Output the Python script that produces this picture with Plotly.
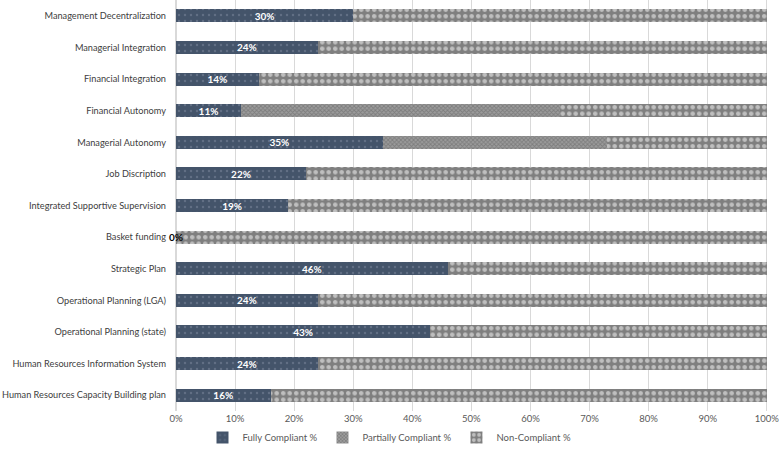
import plotly.graph_objects as go

categories = [
    "Management Decentralization",
    "Managerial Integration",
    "Financial Integration",
    "Financial Autonomy",
    "Managerial Autonomy",
    "Job Discription",
    "Integrated Supportive Supervision",
    "Basket funding",
    "Strategic Plan",
    "Operational Planning (LGA)",
    "Operational Planning (state)",
    "Human Resources Information System",
    "Human Resources Capacity Building plan",
]
fully = [30, 24, 14, 11, 35, 22, 19, 0, 46, 24, 43, 24, 16]
partially = [0, 0, 0, 54, 38, 0, 0, 0, 0, 0, 0, 0, 0]
non_compliant = [70, 76, 86, 35, 27, 78, 81, 100, 54, 76, 57, 76, 84]
x_ticks = [0, 10, 20, 30, 40, 50, 60, 70, 80, 90, 100]
x_tick_labels = [f"{t}%" for t in x_ticks]

FONT = "Lato, 'Open Sans', sans-serif"

fig = go.Figure()
fig.add_trace(go.Bar(
    y=categories, x=fully, orientation="h", name="Fully Compliant %",
    marker=dict(color="#44546A", line=dict(width=0),
                pattern=dict(shape=".", fgcolor="#7d8aa0", bgcolor="#44546A", size=6, solidity=0.12)),
    text=[f"{v}%" if v > 0 else "" for v in fully],
    textposition="inside", insidetextanchor="middle", constraintext="none",
    textfont=dict(color="white", size=10, family=FONT, weight="bold"),
    hoverinfo="skip",
))
fig.add_trace(go.Bar(
    y=categories, x=partially, orientation="h", name="Partially Compliant %",
    marker=dict(color="#8c8c8c", line=dict(width=0),
                pattern=dict(shape="x", fgcolor="#5e5e5e", bgcolor="#9c9c9c", size=3, solidity=0.5)),
    hoverinfo="skip",
))
fig.add_trace(go.Bar(
    y=categories, x=non_compliant, orientation="h", name="Non-Compliant %",
    marker=dict(color="#7f7f7f", line=dict(width=0),
                pattern=dict(shape=".", fgcolor="#ffffff", bgcolor="#7f7f7f", size=6.5, solidity=0.4)),
    hoverinfo="skip",
))

for c, v in zip(categories, fully):
    if v == 0:
        fig.add_annotation(x=v, y=c, text=f"<b>{v}%</b>", showarrow=False,
                           xanchor="center", font=dict(color="black", size=10, family=FONT))

fig.update_layout(
    width=779, height=452,
    barmode="stack", bargap=0.59,
    plot_bgcolor="white", paper_bgcolor="white",
    margin=dict(l=176, r=11, t=0, b=41),
    font=dict(family=FONT, size=10, color="#595959"),
    xaxis=dict(range=[0, 100.2], tickvals=x_ticks, ticktext=x_tick_labels,
               showgrid=True, gridcolor="#d9d9d9", gridwidth=1,
               zeroline=True, zerolinecolor="#d9d9d9", ticks="", showline=False,
               automargin=False, ticklabeloverflow="allow",
               tickfont=dict(size=9.5, color="#595959")),
    yaxis=dict(autorange="reversed", showgrid=False, ticks="", ticklabelstandoff=9,
               automargin=False,
               tickfont=dict(size=9.2, color="#404040")),
    legend=dict(orientation="h", xref="container", yref="container",
                x=0.5, xanchor="center", y=0.0, yanchor="bottom",
                font=dict(size=9.5, color="#595959"), traceorder="normal",
                itemwidth=30),
    showlegend=True,
)

fig.write_html("out.html", config={"displayModeBar": False},
               post_script="document.body.style.margin='0';")
